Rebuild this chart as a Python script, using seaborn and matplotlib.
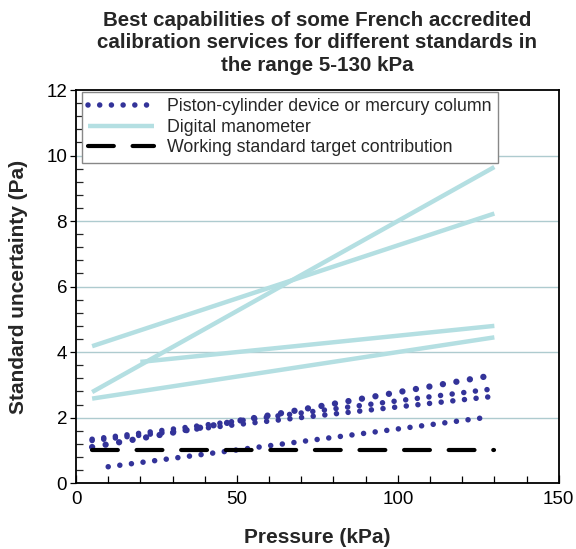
import matplotlib
matplotlib.use("Agg")
import matplotlib.pyplot as plt
import seaborn as sns
import pandas as pd

# ---- data ----
piston_x = [[5, 127], [5, 129], [5, 129], [10, 127]]
piston_y = [[1.10, 3.25], [1.34, 2.87], [1.30, 2.64], [0.50, 2.00]]

digital_x = [[5, 130], [5, 130], [20, 130], [5, 130]]
digital_y = [[4.18, 8.23], [2.78, 9.65], [3.70, 4.80], [2.58, 4.45]]

working_x = [5, 130]
working_y = [1.0, 1.0]

labels = ["Piston-cylinder device or mercury column",
          "Digital manometer",
          "Working standard target contribution"]
title = ("Best capabilities of some French accredited\n"
         "calibration services for different standards in\n"
         "the range 5-130 kPa")
x_ticks = [0, 50, 100, 150]
y_ticks = [0, 2, 4, 6, 8, 10, 12]

sns.set_theme(style="white")
plt.rcParams["font.family"] = ["Liberation Sans", "DejaVu Sans"]

fig = plt.figure(figsize=(5.76, 5.49), dpi=100)
ax = fig.add_axes([0.132, 0.120, 0.838, 0.716])

dig_color = "#b4dfe2"
pis_color = "#333399"

handles = {}
for i, (xs, ys) in enumerate(zip(digital_x, digital_y)):
    df = pd.DataFrame({"x": xs, "y": ys})
    sns.lineplot(data=df, x="x", y="y", ax=ax, color=dig_color, linewidth=3.2,
                 solid_capstyle="butt", zorder=2)
    if i == 0:
        handles["dig"] = ax.lines[-1]

for i, (xs, ys) in enumerate(zip(piston_x, piston_y)):
    df = pd.DataFrame({"x": xs, "y": ys})
    lw = 4.6 if i == 0 else 4.0
    gap = 13.7 / (lw / 0.72) if i == 0 else 11.7 / (lw / 0.72)
    sns.lineplot(data=df, x="x", y="y", ax=ax, color=pis_color, linewidth=lw,
                 linestyle=(0, (0.001, gap)), dash_capstyle="round", zorder=3)
    if i == 1:
        handles["pis"] = ax.lines[-1]

df = pd.DataFrame({"x": working_x, "y": working_y})
sns.lineplot(data=df, x="x", y="y", ax=ax, color="black", linewidth=3.0,
             linestyle=(0, (6.2, 4.5)), dash_capstyle="round", zorder=4)
handles["work"] = ax.lines[-1]

ax.set_xlim(0, 150)
ax.set_ylim(0, 12)
ax.set_xticks(x_ticks)
ax.set_yticks(y_ticks)
ax.set_xticks(range(0, 151, 10), minor=True)
ax.set_yticks([v * 0.4 for v in range(0, 31)], minor=True)

for y in y_ticks[1:-1]:
    ax.axhline(y, color="#aecbcf", linewidth=1.0, zorder=1)

for s in ax.spines.values():
    s.set_visible(True)
    s.set_color("black")
    s.set_linewidth(1.3)

ax.tick_params(axis="x", which="both", direction="in", length=5, width=0.9,
               labelsize=13.5, pad=6, colors="black", bottom=True, top=False)
ax.tick_params(axis="x", which="major", length=6)
ax.tick_params(axis="y", which="major", direction="out", length=4.5, width=0.9,
               labelsize=13.5, left=True, colors="black", pad=2)
ax.tick_params(axis="y", which="minor", direction="in", length=5, width=0.9,
               left=True)

ax.set_xlabel("Pressure (kPa)", fontsize=15, fontweight="bold", labelpad=14)
ax.set_ylabel("Standard uncertainty (Pa)", fontsize=15, fontweight="bold", labelpad=13)
ax.set_title(title, fontsize=14.8, fontweight="bold", pad=14, linespacing=1.22)

leg = ax.legend([handles["pis"], handles["dig"], handles["work"]], labels,
                loc="upper left", bbox_to_anchor=(6 / 483, 1 - 2 / 393),
                fontsize=12.75, handlelength=3.7, handletextpad=0.75,
                borderpad=0.35, labelspacing=0.2, fancybox=False,
                framealpha=1, edgecolor="#888888", borderaxespad=0.0)
leg.get_frame().set_linewidth(1.0)

fig.savefig("out.png", dpi=100)
